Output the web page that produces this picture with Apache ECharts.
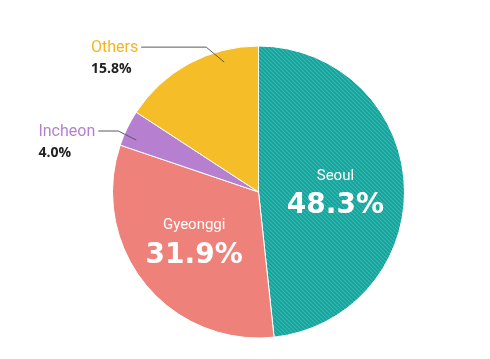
<!DOCTYPE html>
<html><head><meta charset="utf-8">
<script src="https://cdn.jsdelivr.net/npm/echarts@6/dist/echarts.min.js"></script>
<style>html,body{margin:0;padding:0;background:#fff}#c{width:490px;height:359px}</style>
</head><body><div id="c"></div>
<script>
const categories = ['Seoul', 'Gyeonggi', 'Incheon', 'Others'];
const values = [48.3, 31.9, 4.0, 15.8];
const insideLabels = ['Seoul', 'Gyeonggi'];

function stripePattern() {
  const s = 4;
  const cv = document.createElement('canvas');
  cv.width = s; cv.height = s;
  const g = cv.getContext('2d');
  g.fillStyle = '#10a39b';
  g.fillRect(0, 0, s, s);
  g.strokeStyle = '#3cb8b0';
  g.lineWidth = 1.1;
  g.beginPath();
  g.moveTo(-1, -1); g.lineTo(s + 1, s + 1);
  g.moveTo(-1, s - 1); g.lineTo(1, s + 1);
  g.moveTo(s - 1, -1); g.lineTo(s + 1, 1);
  g.stroke();
  return cv;
}

const sliceColors = {
  Seoul: { image: stripePattern(), repeat: 'repeat' },
  Gyeonggi: '#ee827a',
  Incheon: '#b77fd0',
  Others: '#f5bd28'
};
const nameColors = { Incheon: '#b77fd0', Others: '#f2b526' };
// label-line styling: where along the slice the line starts, elbow offset, horizontal length
const guide = {
  Incheon: { frac: 0.3, rr: 0.91, ex: -18, ey: -9, len: 20 },
  Others: { frac: 0.74, rr: 0.92, ex: -18, ey: -15, len: 65 }
};
const insideOffset = { Seoul: [1, 2], Gyeonggi: [-5, 0] };

const fmt = p => '{n|' + p.name + '}\n{v|' + Number(p.value).toFixed(1) + '%}';

// series 1: slices + inside labels
const sliceData = categories.map((name, i) => {
  const inside = insideLabels.includes(name);
  return {
    name, value: values[i],
    itemStyle: { color: sliceColors[name] },
    label: inside ? {
      show: true,
      position: 'inside',
      formatter: fmt,
      offset: insideOffset[name],
      rich: {
        n: { color: '#fff', fontSize: 15, fontFamily: 'Roboto', lineHeight: 32 },
        v: { color: '#fff', fontSize: 28, fontWeight: 'bold', fontFamily: 'DejaVu Sans', lineHeight: 28 }
      }
    } : { show: false },
    labelLine: { show: false }
  };
});

// series 2: transparent overlay carrying the outside labels and guide lines on top
const overlayData = categories.map((name, i) => {
  const inside = insideLabels.includes(name);
  return {
    name, value: values[i],
    label: inside ? { show: false } : {
      show: true,
      position: 'outside',
      formatter: fmt,
      rich: {
        n: { color: nameColors[name], fontSize: 16, fontFamily: 'Roboto', lineHeight: 20, align: 'left' },
        v: { color: '#222', fontSize: 14, fontWeight: 'bold', fontFamily: 'Open Sans', lineHeight: 22, align: 'left' }
      }
    },
    labelLine: inside ? { show: false } : { show: true, lineStyle: { color: '#5a5a5a', width: 1 } }
  };
});

const pieBase = {
  type: 'pie',
  center: [258.5, 192],
  radius: 146,
  startAngle: 90,
  clockwise: true,
  avoidLabelOverlap: false
};

const chart = echarts.init(document.getElementById('c'), null, { renderer: 'canvas' });
chart.setOption({
  animation: false,
  series: [
    Object.assign({}, pieBase, {
      z: 2,
      itemStyle: { borderColor: '#fff', borderWidth: 1 },
      data: sliceData
    }),
    Object.assign({}, pieBase, {
      z: 3,
      silent: true,
      itemStyle: { color: 'rgba(0,0,0,0)', borderWidth: 0 },
      data: overlayData,
      labelLayout: function (params) {
        const name = categories[params.dataIndex];
        const gd = guide[name];
        if (!gd) return {};
        const lay = chart.getModel().getSeriesByIndex(1).getData().getItemLayout(params.dataIndex);
        const a = lay.startAngle + gd.frac * (lay.endAngle - lay.startAngle);
        const p0 = [lay.cx + lay.r * gd.rr * Math.cos(a), lay.cy + lay.r * gd.rr * Math.sin(a)];
        const p1 = [p0[0] + gd.ex, p0[1] + gd.ey];
        const p2 = [p1[0] - gd.len, p1[1]];
        return {
          x: p2[0] - 3 - params.labelRect.width,
          y: p2[1] - 9,
          align: 'left',
          verticalAlign: 'top',
          labelLinePoints: [p0, p1, p2]
        };
      }
    })
  ]
});
</script></body></html>
